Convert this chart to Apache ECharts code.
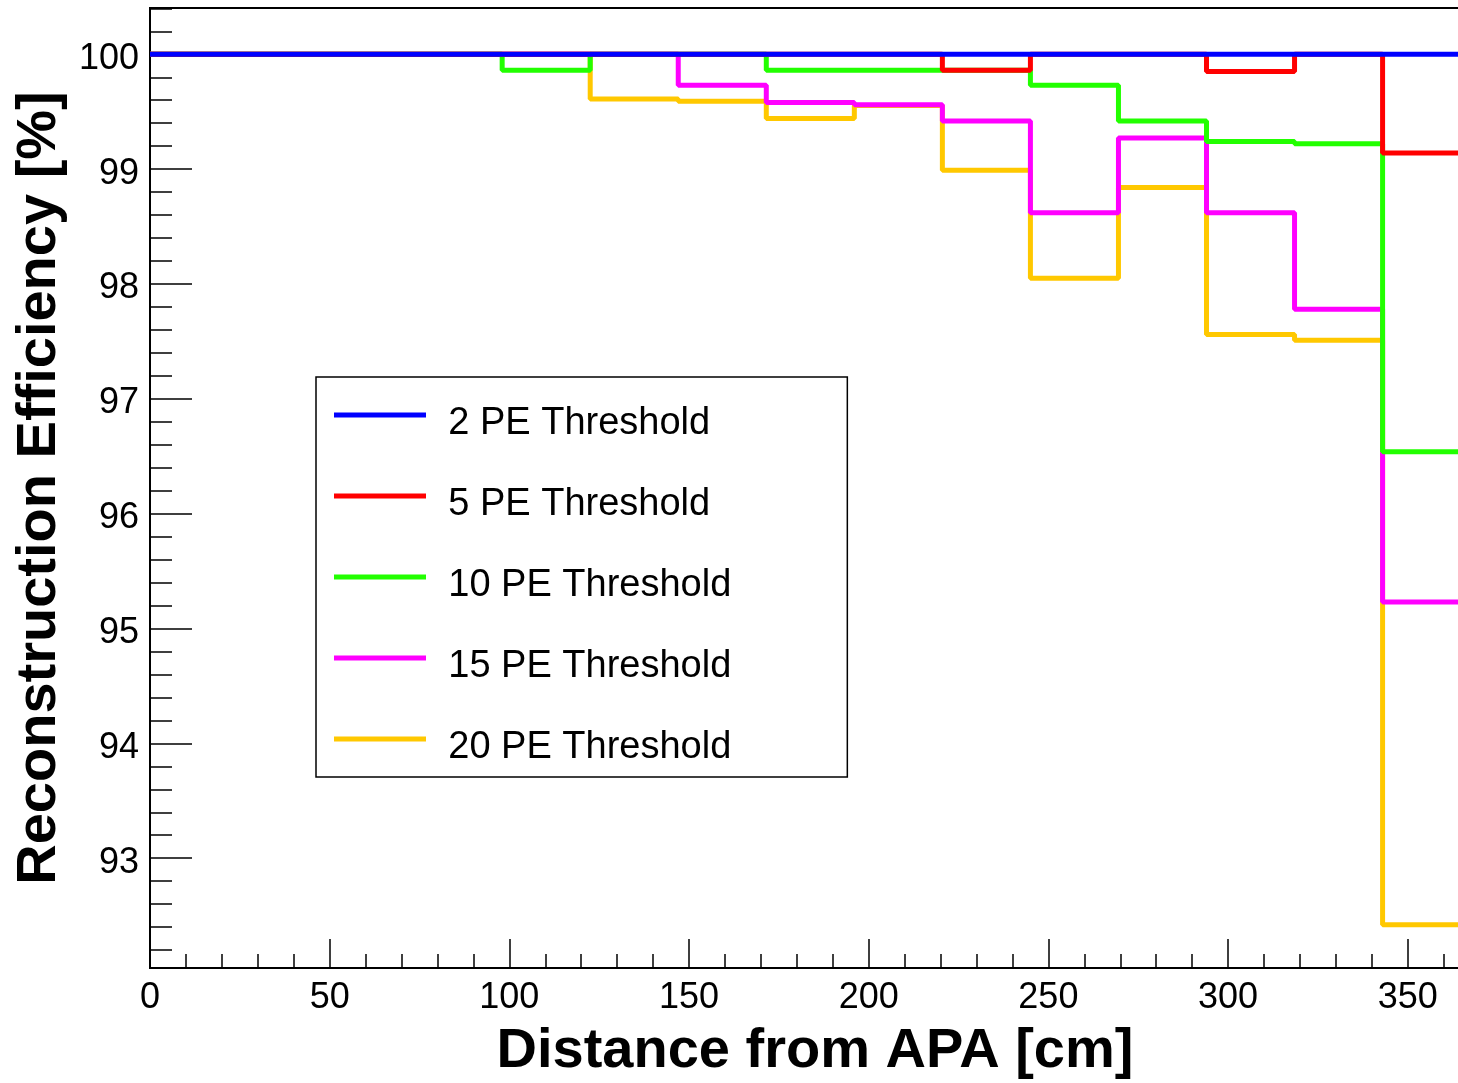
<!DOCTYPE html>
<html>
<head>
<meta charset="utf-8">
<script src="https://cdn.jsdelivr.net/npm/echarts@6/dist/echarts.min.js"></script>
<style>
  html, body { margin: 0; padding: 0; background: #fff; }
  #main { width: 1458px; height: 1083px; }
</style>
</head>
<body>
<div id="main"></div>
<script>
// 直方图的 bin 左边界 (cm)，最后一个是右边界
var binEdges = [0, 24.5, 49, 73.5, 98, 122.5, 147, 171.5, 196, 220.5, 245, 269.5, 294, 318.5, 343, 367.5];

var seriesNames = ['2 PE Threshold', '5 PE Threshold', '10 PE Threshold', '15 PE Threshold', '20 PE Threshold'];
var seriesColors = ['#0000ff', '#ff0000', '#22ff00', '#ff00ff', '#ffc800'];

// 每个 bin 的重建效率 [%]
var pe2  = [100, 100, 100, 100, 100, 100, 100, 100, 100, 100, 100, 100, 100, 100, 100];
var pe5  = [100, 100, 100, 100, 100, 100, 100, 100, 100, 99.86, 100, 100, 99.85, 100, 99.14];
var pe10 = [100, 100, 100, 100, 99.86, 100, 100, 99.86, 99.86, 99.86, 99.73, 99.42, 99.24, 99.22, 96.54];
var pe15 = [100, 100, 100, 100, 100, 100, 99.73, 99.58, 99.56, 99.42, 98.62, 99.27, 98.62, 97.78, 95.23];
var pe20 = [100, 100, 100, 100, 100, 99.61, 99.59, 99.44, 99.555, 98.99, 98.05, 98.84, 97.56, 97.51, 92.42];

var allValues = [pe2, pe5, pe10, pe15, pe20];

var xTicks = ['0', '50', '100', '150', '200', '250', '300', '350'];
var yTicks = ['93', '94', '95', '96', '97', '98', '99', '100'];

var font = 'Liberation Sans, Arial, Helvetica, sans-serif';

// 把 bin 值变成阶梯线的点
function toSteps(values) {
  var pts = values.map(function (v, i) { return [binEdges[i], v]; });
  pts.push([binEdges[values.length], values[values.length - 1]]);
  return pts;
}

var chart = echarts.init(document.getElementById('main'), null, { renderer: 'canvas' });

var series = seriesNames.map(function (name, i) {
  return {
    name: name,
    type: 'line',
    step: 'end',
    symbol: 'none',
    z: 10 - i,
    color: seriesColors[i],
    lineStyle: { width: 5, color: seriesColors[i] },
    data: toSteps(allValues[i]),
    animation: false
  };
});

var option = {
  backgroundColor: '#fff',
  animation: false,
  grid: {
    left: 150,
    top: 8,
    width: 1312,
    bottom: 115,
    outerBoundsMode: 'none',
    containLabel: false,
    show: true,
    borderColor: '#000',
    borderWidth: 2
  },
  legend: {
    data: seriesNames,
    orient: 'vertical',
    left: 316,
    top: 377,
    icon: 'rect',
    itemWidth: 92,
    itemHeight: 5,
    itemGap: 43,
    padding: [28, 116, 10, 18],
    borderColor: '#000',
    borderWidth: 1.5,
    selectedMode: false,
    // 文字比线条略低一点
    formatter: function (name) { return '{s| }{t|' + name + '}'; },
    textStyle: {
      fontFamily: font,
      fontSize: 38,
      color: '#000',
      padding: [0, 0, 0, 17],
      rich: {
        s: { fontSize: 1, lineHeight: 56 },
        t: { fontFamily: font, fontSize: 38, color: '#000', lineHeight: 40, verticalAlign: 'bottom' }
      }
    }
  },
  xAxis: {
    type: 'value',
    min: 0,
    max: 365.1,
    interval: 50,
    name: 'Distance from APA [cm]',
    nameLocation: 'middle',
    nameGap: 56,
    nameTextStyle: {
      fontFamily: font,
      fontSize: 56,
      fontWeight: 'bold',
      color: '#000',
      padding: [0, 0, 0, 18]
    },
    axisLine: { show: true, onZero: false, lineStyle: { color: '#000', width: 2 } },
    axisTick: { show: true, inside: true, length: 29, lineStyle: { color: '#000', width: 1.5 } },
    minorTick: { show: true, splitNumber: 5, length: 14, lineStyle: { color: '#000', width: 1.5 } },
    splitLine: { show: false },
    axisLabel: {
      showMaxLabel: false,
      margin: 12,
      fontFamily: font,
      fontSize: 36,
      color: '#000',
      formatter: function (v) {
        var s = String(v);
        return xTicks.indexOf(s) >= 0 ? s : '';
      }
    }
  },
  yAxis: {
    type: 'value',
    min: 92.044,
    max: 100.403,
    splitNumber: 8,
    name: 'Reconstruction Efficiency [%]',
    nameLocation: 'middle',
    nameGap: 75,
    nameTextStyle: {
      fontFamily: font,
      fontSize: 56,
      fontWeight: 'bold',
      color: '#000'
    },
    axisLine: { show: true, onZero: false, lineStyle: { color: '#000', width: 2 } },
    axisTick: { show: true, inside: true, length: 42, lineStyle: { color: '#000', width: 1.5 } },
    minorTick: { show: true, splitNumber: 5, length: 22, lineStyle: { color: '#000', width: 1.5 } },
    splitLine: { show: false },
    axisLabel: {
      showMinLabel: false,
      showMaxLabel: false,
      margin: 11,
      verticalAlign: 'top',
      lineHeight: 9,
      fontFamily: font,
      fontSize: 36,
      color: '#000',
      formatter: function (v) {
        var s = String(v);
        return yTicks.indexOf(s) >= 0 ? s : '';
      }
    }
  },
  series: series
};

chart.setOption(option);
</script>
</body>
</html>
